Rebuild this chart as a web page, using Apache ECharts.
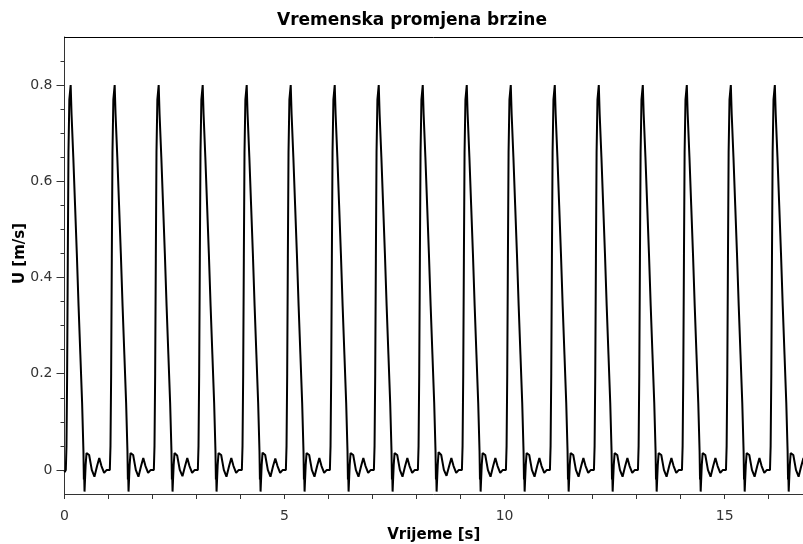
<!DOCTYPE html>
<html>
<head>
<meta charset="utf-8">
<script src="https://cdn.jsdelivr.net/npm/echarts@6/dist/echarts.min.js"></script>
<style>html,body{margin:0;padding:0;background:#fff}#c{width:803px;height:544px}</style>
</head>
<body>
<div id="c"></div>
<script>
// Cycle start times [s]
const cycleStart = [0,1,2,3,4,5,6,7,8,9,10,11,12,13,14,15,16];
// Sampling instants within each cycle [s]
const phase = [0.00,0.03,0.045,0.06,0.075,0.09,0.11,0.14,0.16,0.20,0.24,0.28,0.32,0.36,0.40,0.43,0.44,0.445,0.455,0.48,0.50,0.56,0.62,0.68,0.74,0.79,0.84,0.90,0.96];
// Velocity U [m/s] per cycle
const speed = [
[-0.005,0.000,0.05,0.20,0.44,0.66,0.77,0.80,0.74,0.65,0.55,0.45,0.34,0.24,0.14,0.04,-0.02,0.000,-0.045,0.010,0.035,0.031,0.000,-0.014,0.008,0.025,0.008,-0.006,0.000],
[0.000,0.000,0.05,0.20,0.44,0.66,0.77,0.80,0.74,0.65,0.55,0.45,0.34,0.24,0.14,0.04,-0.02,0.000,-0.045,0.010,0.035,0.031,0.000,-0.014,0.008,0.025,0.008,-0.006,0.000],
[0.000,0.000,0.05,0.20,0.44,0.66,0.77,0.80,0.74,0.65,0.55,0.45,0.34,0.24,0.14,0.04,-0.02,0.000,-0.045,0.010,0.035,0.030,0.000,-0.013,0.008,0.025,0.008,-0.006,0.000],
[0.000,0.000,0.05,0.20,0.44,0.66,0.77,0.80,0.74,0.65,0.55,0.45,0.34,0.24,0.14,0.04,-0.02,0.000,-0.045,0.010,0.035,0.031,0.000,-0.014,0.008,0.025,0.008,-0.006,0.000],
[0.000,0.000,0.05,0.20,0.44,0.66,0.77,0.80,0.74,0.65,0.55,0.45,0.34,0.24,0.14,0.04,-0.02,0.000,-0.045,0.010,0.036,0.031,0.000,-0.014,0.008,0.024,0.008,-0.006,0.000],
[0.000,0.000,0.05,0.20,0.44,0.66,0.77,0.80,0.74,0.65,0.55,0.45,0.34,0.24,0.14,0.04,-0.02,0.000,-0.045,0.010,0.035,0.031,0.000,-0.014,0.008,0.025,0.008,-0.006,0.000],
[0.000,0.000,0.05,0.20,0.44,0.66,0.77,0.80,0.74,0.65,0.55,0.45,0.34,0.24,0.14,0.04,-0.02,0.000,-0.045,0.010,0.035,0.031,0.000,-0.014,0.008,0.025,0.008,-0.006,0.000],
[0.000,0.000,0.05,0.20,0.44,0.66,0.77,0.80,0.74,0.65,0.55,0.45,0.34,0.24,0.14,0.04,-0.02,0.000,-0.045,0.010,0.035,0.031,0.000,-0.014,0.008,0.025,0.008,-0.006,0.000],
[0.000,0.000,0.05,0.20,0.44,0.66,0.77,0.80,0.74,0.65,0.55,0.45,0.34,0.24,0.14,0.04,-0.02,0.000,-0.045,0.010,0.037,0.031,0.000,-0.012,0.008,0.025,0.008,-0.006,0.000],
[0.000,0.000,0.05,0.20,0.44,0.66,0.77,0.80,0.74,0.65,0.55,0.45,0.34,0.24,0.14,0.04,-0.02,0.000,-0.045,0.010,0.035,0.031,0.000,-0.014,0.008,0.025,0.008,-0.006,0.000],
[0.000,0.000,0.05,0.20,0.44,0.66,0.77,0.80,0.74,0.65,0.55,0.45,0.34,0.24,0.14,0.04,-0.02,0.000,-0.045,0.010,0.035,0.031,0.000,-0.014,0.008,0.025,0.008,-0.006,0.000],
[0.000,0.000,0.05,0.20,0.44,0.66,0.77,0.80,0.74,0.65,0.55,0.45,0.34,0.24,0.14,0.04,-0.02,0.000,-0.045,0.010,0.035,0.031,0.000,-0.014,0.008,0.025,0.008,-0.006,0.000],
[0.000,0.000,0.05,0.20,0.44,0.66,0.77,0.80,0.74,0.65,0.55,0.45,0.34,0.24,0.14,0.04,-0.02,0.000,-0.045,0.010,0.035,0.031,0.000,-0.014,0.008,0.025,0.008,-0.006,0.000],
[0.000,0.000,0.05,0.20,0.44,0.66,0.77,0.80,0.74,0.65,0.55,0.45,0.34,0.24,0.14,0.04,-0.02,0.000,-0.045,0.010,0.035,0.031,0.000,-0.014,0.008,0.025,0.008,-0.006,0.000],
[0.000,0.000,0.05,0.20,0.44,0.66,0.77,0.80,0.74,0.65,0.55,0.45,0.34,0.24,0.14,0.04,-0.02,0.000,-0.045,0.010,0.035,0.031,0.000,-0.014,0.008,0.025,0.008,-0.006,0.000],
[0.000,0.000,0.05,0.20,0.44,0.66,0.77,0.80,0.74,0.65,0.55,0.45,0.34,0.24,0.14,0.04,-0.02,0.000,-0.045,0.010,0.035,0.031,0.000,-0.014,0.008,0.025,0.008,-0.006,0.000],
[0.000,0.000,0.05,0.20,0.44,0.66,0.77,0.80,0.74,0.65,0.55,0.45,0.34,0.24,0.14,0.04,-0.02,0.000,-0.045,0.010,0.035,0.031,0.000,-0.014,0.008,0.025,0.008,-0.006,0.000]
];
// Tick values
const xMajorTicks = [0,5,10,15];
const xMinorTicks = [0,1,2,3,4,5,6,7,8,9,10,11,12,13,14,15,16];
const yMajorTicks = [0,0.2,0.4,0.6,0.8];
const yMinorTicks = [0.05,0.1,0.15,0.25,0.3,0.35,0.45,0.5,0.55,0.65,0.7,0.75,0.85];

const data = [];
cycleStart.forEach((c, k) => {
  phase.forEach((p, i) => { data.push([+(c + p).toFixed(4), speed[k][i]]); });
});

const FONT = 'DejaVu Sans';
const chart = echarts.init(document.getElementById('c'), null, {renderer: 'canvas'});
chart.setOption({
  animation: false,
  backgroundColor: '#fff',
  title: {
    text: 'Vremenska promjena brzine',
    left: 272, top: 7,
    textStyle: {fontFamily: FONT, fontSize: 17, fontWeight: 'bold', color: '#000'}
  },
  grid: {left: 64.5, right: 0, top: 37, bottom: 50, containLabel: false, outerBoundsMode: 'none'},
  xAxis: [{
    type: 'value', min: 0, max: 16.78, position: 'bottom',
    axisLine: {show: true, onZero: false, lineStyle: {color: '#333', width: 1}},
    axisTick: {show: true, customValues: xMinorTicks, length: 5, lineStyle: {color: '#333'}},
    axisLabel: {customValues: xMajorTicks, margin: 15, fontFamily: FONT, fontSize: 14, color: '#333'},
    splitLine: {show: false},
    name: 'Vrijeme [s]', nameLocation: 'middle', nameGap: 34, nameMoveOverlap: false,
    nameTextStyle: {fontFamily: FONT, fontSize: 15, fontWeight: 'bold', color: '#000'}
  }, {
    type: 'value', min: 0, max: 16.78, position: 'top',
    axisLine: {show: true, onZero: false, lineStyle: {color: '#000', width: 1}},
    axisTick: {show: false}, axisLabel: {show: false}, splitLine: {show: false}
  }],
  yAxis: [{
    type: 'value', min: -0.05, max: 0.9, position: 'left',
    axisLine: {show: true, onZero: false, lineStyle: {color: '#333', width: 1}},
    axisTick: {show: true, customValues: yMajorTicks, length: 8, lineStyle: {color: '#333'}},
    axisLabel: {customValues: yMajorTicks, margin: 12, fontFamily: FONT, fontSize: 14, color: '#333'},
    splitLine: {show: false},
    name: 'U [m/s]', nameLocation: 'middle', nameGap: 37, nameRotate: 90, nameMoveOverlap: false,
    nameTextStyle: {fontFamily: FONT, fontSize: 15, fontWeight: 'bold', color: '#000', padding: [0, 0, 0, 24]}
  }, {
    type: 'value', min: -0.05, max: 0.9, position: 'left',
    axisLine: {show: false},
    axisTick: {show: true, customValues: yMinorTicks, length: 4, lineStyle: {color: '#333'}},
    axisLabel: {show: false}, splitLine: {show: false}
  }],
  series: [{
    type: 'line', data: data, xAxisIndex: 0, yAxisIndex: 0,
    showSymbol: false, clip: true,
    lineStyle: {color: '#000', width: 2}
  }]
});
</script>
</body>
</html>
